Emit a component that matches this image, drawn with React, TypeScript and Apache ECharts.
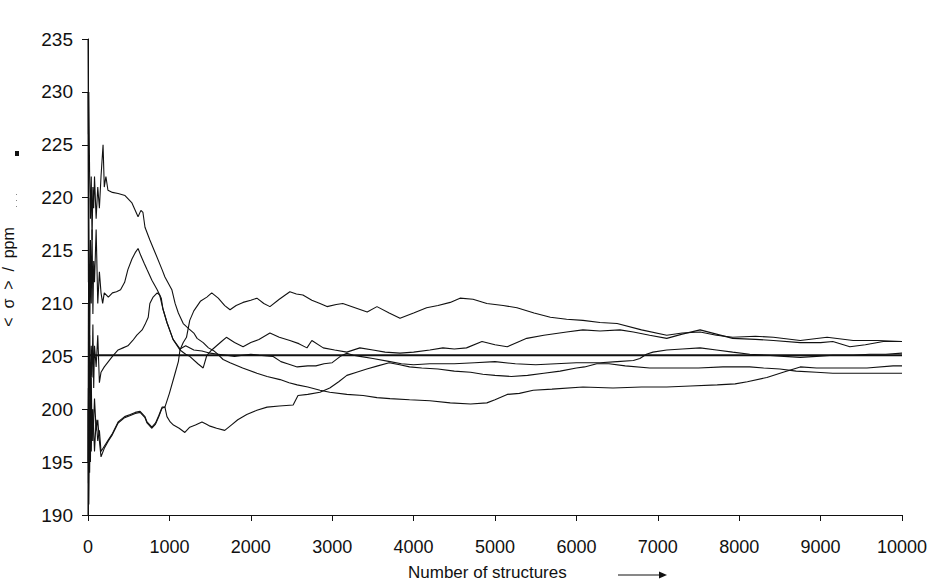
import React, { useEffect, useRef } from "react";
import * as echarts from "echarts";

// x: number of structures, y: running average shielding (ppm)
const xTicks = [0, 1000, 2000, 3000, 4000, 5000, 6000, 7000, 8000, 9000, 10000];
const yTicks = [190, 195, 200, 205, 210, 215, 220, 225, 230, 235];
const referenceValue = 205.1;

const runA: [number, number][] = [
  [0, 200], [5, 193], [10, 205], [20, 194], [30, 201], [40, 196], [50, 200], [60, 197], [80, 201], [100, 198],
  [120, 199], [140, 197], [160, 195.5], [200, 196.3], [250, 197], [300, 197.6], [370, 198.7], [450, 199.2],
  [520, 199.4], [580, 199.6], [640, 199.7], [700, 199.2], [725, 198.7], [785, 198.2], [830, 198.6], [870, 199.3],
  [910, 200.1], [945, 200.2], [1000, 201.5], [1070, 203.4], [1110, 204.5], [1130, 205.6], [1170, 206.3],
  [1210, 206.8], [1250, 208.4], [1300, 209.3], [1380, 210.2], [1460, 210.6], [1520, 211], [1600, 210.5],
  [1680, 209.8], [1745, 209.4], [1820, 209.8], [1905, 210.1], [2000, 210.3], [2075, 210.5], [2160, 210.0],
  [2235, 209.7], [2350, 210.4], [2480, 211.1], [2560, 210.9], [2640, 210.8], [2750, 210.3], [2850, 210],
  [2936, 209.7], [3050, 209.9], [3130, 210], [3280, 209.6], [3430, 209.2], [3550, 209.7], [3700, 209.1],
  [3833, 208.6], [4000, 209.1], [4160, 209.6], [4300, 209.8], [4450, 210.1], [4570, 210.5], [4730, 210.4],
  [4900, 210], [5100, 209.8], [5270, 209.6], [5480, 209.1], [5680, 208.7], [5880, 208.5], [6080, 208.4],
  [6290, 208.2], [6500, 208.1], [6800, 207.5], [7110, 207], [7300, 207.2], [7520, 207.3], [7720, 207],
  [7920, 206.8], [8200, 206.9], [8420, 206.8], [8750, 206.5], [9080, 206.8], [9400, 206.5], [9700, 206.5],
  [10000, 206.4],
];

const runB: [number, number][] = [
  [0, 195], [5, 202], [10, 191], [20, 199], [30, 195], [40, 203], [50, 197], [60, 200], [80, 196], [100, 199],
  [120, 197], [140, 198], [160, 196], [200, 196.5], [250, 197.1], [300, 197.7], [370, 198.8], [450, 199.3],
  [520, 199.5], [580, 199.7], [640, 199.8], [700, 199.3], [725, 198.8], [785, 198.3], [830, 198.7], [870, 199.4],
  [910, 200.2], [945, 200.2], [970, 199.3], [1010, 198.8], [1050, 198.5], [1120, 198.2], [1190, 197.8],
  [1250, 198.3], [1320, 198.5], [1400, 198.8], [1450, 198.6], [1500, 198.4], [1580, 198.2], [1680, 198],
  [1760, 198.5], [1840, 199], [1950, 199.5], [2075, 199.9], [2200, 200.2], [2350, 200.3], [2520, 200.4],
  [2580, 201.3], [2700, 201.4], [2850, 201.6], [2970, 202], [3080, 202.6], [3180, 203.2], [3300, 203.5],
  [3425, 203.8], [3560, 204.1], [3700, 204.4], [3830, 204.2], [3950, 204], [4100, 203.9], [4300, 203.8],
  [4500, 203.6], [4700, 203.5], [4850, 203.3], [5000, 203.2], [5200, 203.1], [5400, 203.2], [5600, 203.4],
  [5800, 203.6], [6000, 203.9], [6100, 204], [6250, 204.3], [6400, 204.3], [6600, 204.1], [6900, 203.9],
  [7200, 203.9], [7500, 203.9], [7800, 204], [8130, 204], [8300, 203.9], [8500, 203.8], [8700, 203.6],
  [8950, 203.5], [9150, 203.4], [9360, 203.4], [9700, 203.4], [10000, 203.4],
];

const runC: [number, number][] = [
  [0, 235], [5, 226], [10, 230], [20, 222], [30, 218], [40, 222], [50, 216], [60, 221], [70, 219], [80, 222],
  [100, 218], [120, 221], [140, 219], [160, 222], [185, 225], [200, 221], [220, 222], [245, 220.7], [300, 220.5],
  [370, 220.4], [455, 220.2], [540, 219.5], [615, 218.2], [650, 218.8], [675, 218.6], [700, 217.2], [760, 216],
  [825, 214.8], [910, 213.2], [945, 212.5], [1030, 211.3], [1070, 210], [1110, 209.1], [1170, 208.1],
  [1240, 207.6], [1300, 207.2], [1340, 206.7], [1415, 206.3], [1480, 205.8], [1550, 205.5], [1580, 205.3],
  [1660, 204.7], [1745, 204.4], [1900, 203.9], [2075, 203.4], [2200, 203.1], [2360, 202.8], [2470, 202.5],
  [2570, 202.3], [2700, 202.1], [2850, 201.8], [2970, 201.6], [3180, 201.4], [3380, 201.3], [3550, 201.1],
  [3710, 201], [3950, 200.9], [4200, 200.8], [4450, 200.6], [4700, 200.5], [4900, 200.6], [5000, 200.9],
  [5150, 201.4], [5300, 201.5], [5470, 201.8], [5700, 201.9], [6080, 202.1], [6450, 202], [6800, 202.1],
  [7110, 202.1], [7400, 202.2], [7730, 202.3], [7950, 202.4], [8100, 202.6], [8340, 203], [8540, 203.5],
  [8750, 204], [8950, 203.9], [9150, 203.9], [9570, 203.9], [9890, 204.1], [10000, 204.1],
];

const runD: [number, number][] = [
  [0, 230], [5, 212], [10, 220], [20, 205], [30, 216], [40, 210], [50, 217], [60, 209], [70, 214], [80, 212],
  [100, 217], [120, 210], [140, 213], [160, 211], [180, 210], [200, 211], [250, 210.6], [300, 211], [350, 211.1],
  [400, 211.3], [450, 212], [490, 213.2], [540, 214.2], [580, 214.8], [615, 215.2], [650, 214.5], [690, 213.8],
  [725, 213.2], [785, 212.2], [850, 211.3], [900, 210.5], [920, 209.5], [970, 208.2], [1045, 206.6],
  [1130, 205.7], [1200, 206], [1300, 205.6], [1400, 205.5], [1500, 205.3], [1600, 205.2], [1700, 205.1],
  [1800, 205], [1900, 205.1], [2000, 205.2], [2100, 205.1], [2270, 205], [2370, 204.5], [2450, 204.3],
  [2570, 204], [2700, 204.1], [2800, 204.1], [2900, 204.3], [3000, 204.4], [3100, 205], [3180, 205.3],
  [3260, 205.1], [3340, 205], [3500, 204.8], [3710, 204.5], [3850, 204.3], [4000, 204.2], [4200, 204.3],
  [4500, 204.3], [4750, 204.4], [5000, 204.5], [5250, 204.3], [5500, 204.2], [5750, 204.3], [6000, 204.4],
  [6290, 204.4], [6500, 204.5], [6700, 204.6], [6780, 204.8], [6860, 205.2], [6940, 205.4], [7110, 205.6],
  [7300, 205.7], [7520, 205.8], [7720, 205.6], [7920, 205.4], [8130, 205.2], [8340, 205.1], [8550, 205],
  [8750, 204.9], [8950, 205], [9150, 205.1], [9400, 205.1], [9600, 205.2], [9800, 205.2], [10000, 205.3],
];

const runE: [number, number][] = [
  [0, 190], [5, 210], [10, 198], [20, 207], [30, 200], [40, 206], [50, 203], [60, 208], [70, 202], [80, 206],
  [100, 204], [120, 207], [140, 202.5], [160, 203.5], [200, 204], [250, 204.5], [300, 205], [370, 205.6],
  [430, 205.8], [490, 206], [550, 206.5], [600, 207], [665, 207.5], [700, 208], [740, 208.7], [760, 210],
  [800, 210.6], [850, 211], [880, 210.8], [920, 209.5], [970, 208.2], [1045, 206.6], [1130, 205.6],
  [1200, 205.2], [1250, 205], [1350, 204.3], [1415, 203.9], [1460, 205.1], [1520, 205.6], [1580, 206],
  [1640, 206.4], [1700, 206.8], [1800, 206.3], [1905, 205.9], [2000, 206.3], [2100, 206.6], [2235, 207.2],
  [2350, 206.8], [2480, 206.5], [2590, 206.2], [2690, 205.8], [2750, 206.5], [2890, 205.8], [3030, 205.6],
  [3180, 205.4], [3340, 205.8], [3500, 205.6], [3650, 205.4], [3833, 205.3], [4000, 205.4], [4200, 205.6],
  [4360, 205.8], [4500, 205.7], [4650, 205.8], [4840, 206.4], [5000, 206.1], [5150, 205.9], [5270, 206.3],
  [5390, 206.7], [5600, 207], [5880, 207.3], [6080, 207.5], [6290, 207.4], [6535, 207.5], [6700, 207.3],
  [6900, 207], [7110, 206.7], [7300, 207.1], [7520, 207.5], [7720, 207.1], [7920, 206.7], [8200, 206.6],
  [8420, 206.5], [8750, 206.3], [9000, 206.3], [9150, 206.4], [9360, 205.9], [9550, 206.1], [9770, 206.4],
  [10000, 206.4],
];

const runs = [runA, runB, runC, runD, runE];

const FONT = "'Liberation Sans', Arial, sans-serif";
const INK = "#111111";

export default function App() {
  const ref = useRef<HTMLDivElement>(null);

  useEffect(() => {
    if (!ref.current) return;
    const chart = echarts.init(ref.current, undefined, { renderer: "svg" });

    const lineSeries = runs.map((r, i) => ({
      type: "line",
      name: "run" + (i + 1),
      data: r,
      showSymbol: false,
      symbol: "none",
      lineStyle: { color: INK, width: 1.1 },
      z: 2,
    }));

    chart.setOption({
      animation: false,
      backgroundColor: "#ffffff",
      grid: { left: 88, right: 28, top: 39, bottom: 67, containLabel: false, outerBoundsMode: "none" },
      xAxis: {
        type: "value",
        min: xTicks[0],
        max: xTicks[xTicks.length - 1],
        interval: 1000,
        axisLine: { show: true, lineStyle: { color: INK, width: 1 } },
        axisTick: { show: true, length: 6, lineStyle: { color: INK } },
        splitLine: { show: false },
        axisLabel: {
          color: INK,
          fontSize: 18,
          fontFamily: FONT,
          margin: 23,
          formatter: (v: number) => String(v),
        },
      },
      yAxis: {
        type: "value",
        min: yTicks[0],
        max: yTicks[yTicks.length - 1],
        interval: 5,
        axisLine: { show: true, lineStyle: { color: INK, width: 1 } },
        axisTick: { show: true, length: 6, lineStyle: { color: INK } },
        splitLine: { show: false },
        axisLabel: {
          color: INK,
          fontSize: 19,
          fontFamily: FONT,
          margin: 15,
          formatter: (v: number) => String(v),
        },
        name: "<  σ  >  /  ppm",
        nameLocation: "middle",
        nameGap: 72,
        nameRotate: 90,
        nameTextStyle: { color: INK, fontSize: 16, fontFamily: FONT },
      },
      series: [
        ...lineSeries,
        {
          type: "line",
          name: "reference",
          data: [
            [xTicks[0], referenceValue],
            [xTicks[xTicks.length - 1], referenceValue],
          ],
          showSymbol: false,
          symbol: "none",
          lineStyle: { color: INK, width: 2 },
          z: 3,
        },
      ],
      graphic: [
        {
          type: "text",
          left: 408,
          top: 564,
          style: { text: "Number of structures", fill: INK, fontSize: 17, fontFamily: FONT },
        },
        {
          type: "line",
          shape: { x1: 618, y1: 575, x2: 662, y2: 575 },
          style: { stroke: INK, lineWidth: 1 },
        },
        {
          type: "polygon",
          shape: { points: [[659, 571.5], [667, 575], [659, 578.5]] },
          style: { fill: INK },
        },
        { type: "rect", shape: { x: 15, y: 151, width: 4, height: 5 }, style: { fill: INK } },
        { type: "rect", shape: { x: 16, y: 194, width: 1, height: 1 }, style: { fill: "#888" } },
        { type: "rect", shape: { x: 16, y: 200, width: 1, height: 1 }, style: { fill: "#888" } },
        { type: "rect", shape: { x: 16, y: 206, width: 1, height: 1 }, style: { fill: "#888" } },
      ],
    });

    return () => chart.dispose();
  }, []);

  return (
    <div
      ref={ref}
      style={{ position: "absolute", left: 0, top: 0, width: 930, height: 582, background: "#fff" }}
    />
  );
}
